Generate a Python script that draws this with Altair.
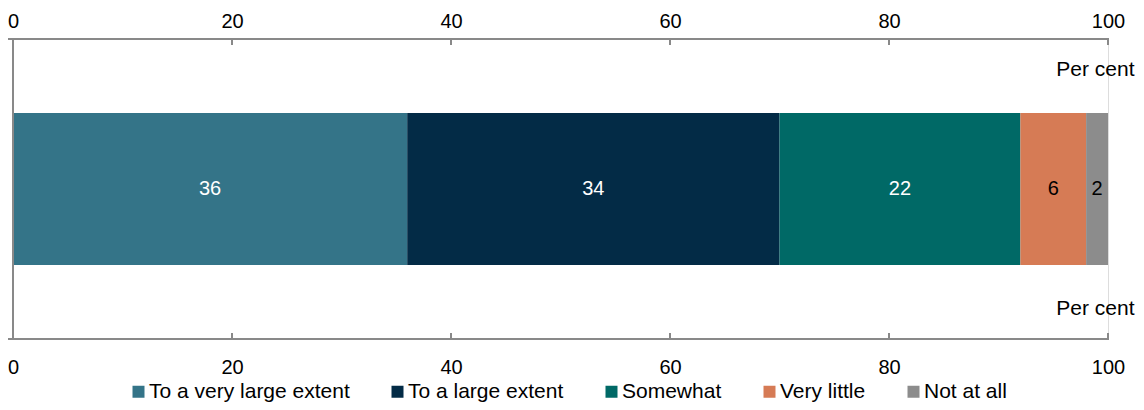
import altair as alt
import pandas as pd

# ---- data ----
categories = ["To a very large extent", "To a large extent", "Somewhat", "Very little", "Not at all"]
values = [36, 34, 22, 6, 2]
colors = ["#347488", "#032B46", "#006966", "#D67B55", "#8C8C8C"]
label_colors = ["white", "white", "white", "black", "black"]
tick_values = [0, 20, 40, 60, 80, 100]
unit_label = "Per cent"

# ---- derived table ----
starts, ends = [], []
acc = 0
for v in values:
    starts.append(acc)
    acc += v
    ends.append(acc)
df = pd.DataFrame({
    "category": categories,
    "value": values,
    "start": starts,
    "end": ends,
    "mid": [(s + e) / 2 for s, e in zip(starts, ends)],
    "lc": label_colors,
    "row": ["all"] * len(values),
})
ticks_df = pd.DataFrame({"t": tick_values})
one = pd.DataFrame({"a": [0]})

W = 1095
H = 300
FONT = "Liberation Sans, Arial, sans-serif"
AXC = "#898989"

xscale = alt.Scale(domain=[0, 100], nice=False, zero=True)
yscale = alt.Scale(paddingInner=0.3274, paddingOuter=0.3274)

bars = alt.Chart(df).mark_bar().encode(
    x=alt.X("start:Q", scale=xscale,
            axis=alt.Axis(orient="bottom", values=tick_values, domain=False, ticks=False,
                          grid=False, labelFontSize=20, labelFont=FONT, labelColor="black",
                          labelFlush=False, labelOverlap=False,
                          labelPadding=18, title=unit_label, titleFont=FONT, titleFontSize=21,
                          titleFontWeight="normal", titleColor="black", titleAlign="right",
                          titleBaseline="alphabetic", titleX=W + 26, titleY=-25)),
    x2="end:Q",
    y=alt.Y("row:N", axis=None, scale=yscale),
    color=alt.Color("category:N", sort=categories,
                    scale=alt.Scale(domain=categories, range=colors),
                    legend=alt.Legend(orient="none", direction="horizontal", title=None,
                                      legendX=115, legendY=342, symbolType="square",
                                      symbolSize=144, symbolStrokeWidth=0, symbolOpacity=1,
                                      labelFontSize=21, labelFont=FONT, labelColor="black",
                                      labelLimit=0, labelOffset=0, columnPadding=37,
                                      padding=0)),
)

texts = alt.Chart(df).mark_text(fontSize=20, font=FONT, baseline="middle", align="center").encode(
    x=alt.X("mid:Q", scale=xscale, axis=None),
    y=alt.Y("row:N", axis=None, scale=yscale),
    text=alt.Text("value:Q"),
    color=alt.Color("lc:N", scale=None),
)

top_ticks = alt.Chart(ticks_df).mark_rule(color=AXC, strokeWidth=2).encode(
    x=alt.X("t:Q", scale=xscale,
            axis=alt.Axis(orient="top", values=tick_values, domain=False, ticks=False,
                          grid=False, labelFontSize=20, labelFont=FONT, labelColor="black",
                          labelFlush=False, labelOverlap=False,
                          labelPadding=8, title=unit_label, titleFont=FONT, titleFontSize=21,
                          titleFontWeight="normal", titleColor="black", titleAlign="right",
                          titleBaseline="alphabetic", titleX=W + 26, titleY=36)),
    y=alt.value(0),
    y2=alt.value(6),
)

bottom_ticks = alt.Chart(ticks_df).mark_rule(color=AXC, strokeWidth=2).encode(
    x=alt.X("t:Q", scale=xscale, axis=None),
    y=alt.value(H - 6),
    y2=alt.value(H),
)

top_line = alt.Chart(one).mark_rule(color=AXC, strokeWidth=2).encode(
    x=alt.value(-7), x2=alt.value(W + 1), y=alt.value(0))
bottom_line = alt.Chart(one).mark_rule(color=AXC, strokeWidth=2).encode(
    x=alt.value(-7), x2=alt.value(W + 1), y=alt.value(H))
left_line = alt.Chart(one).mark_rule(color=AXC, strokeWidth=2).encode(
    x=alt.value(0), y=alt.value(-1), y2=alt.value(H + 1))

chart = alt.layer(
    bars, texts, top_ticks, bottom_ticks, top_line, bottom_line, left_line
).resolve_axis(x="independent").properties(
    width=W, height=H,
    autosize=alt.AutoSizeParams(type="none"),
    padding={"left": 5, "top": 31, "right": 28, "bottom": 63},
).configure_view(stroke=None).configure(background="white")

chart.save("out.html", embed_options={"renderer": "svg", "actions": False})
